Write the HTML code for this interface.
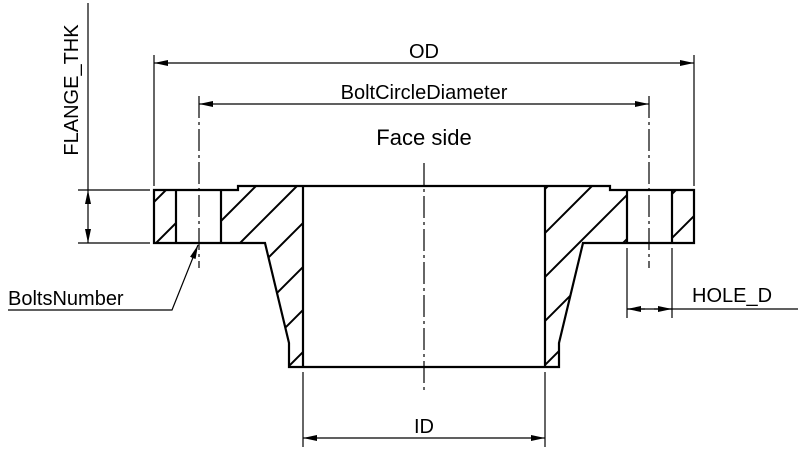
<!DOCTYPE html>
<html><head><style>body{margin:0;background:#fff}svg{display:block}text{font-family:"Liberation Sans",sans-serif;fill:#000}</style></head>
<body>
<svg width="798" height="451" viewBox="0 0 798 451" xmlns="http://www.w3.org/2000/svg">
<defs>
<clipPath id="cl">
<rect x="154" y="190" width="22" height="53"/>
<polygon points="221,190 238,190 238,186 303,186 303,367 289,367 289,343 265,243 221,243"/>
</clipPath>
<clipPath id="cr">
<rect x="672" y="190" width="22" height="53"/>
<polygon points="545,186 610,186 610,190 627,190 627,243 583,243 559,343 559,367 545,367"/>
</clipPath>
<marker id="a" viewBox="0 0 14 6" refX="14" refY="3" markerWidth="14" markerHeight="6" markerUnits="userSpaceOnUse" orient="auto-start-reverse"><path d="M0,0 L14,3 L0,6z" fill="#000"/></marker>
</defs>
<g stroke="#000" stroke-width="2" clip-path="url(#cl)">
<line x1="-44" y1="400" x2="206" y2="150"/>
<line x1="-1" y1="400" x2="249" y2="150"/>
<line x1="42" y1="400" x2="292" y2="150"/>
<line x1="83" y1="400" x2="333" y2="150"/>
<line x1="126" y1="400" x2="376" y2="150"/>
<line x1="170" y1="400" x2="420" y2="150"/>
<line x1="213" y1="400" x2="463" y2="150"/>
<line x1="255" y1="400" x2="505" y2="150"/>
</g>
<g stroke="#000" stroke-width="2" clip-path="url(#cr)">
<line x1="334" y1="400" x2="584" y2="150"/>
<line x1="378" y1="400" x2="628" y2="150"/>
<line x1="422" y1="400" x2="672" y2="150"/>
<line x1="466" y1="400" x2="716" y2="150"/>
<line x1="510" y1="400" x2="760" y2="150"/>
</g>
<g fill="none" stroke="#000" stroke-width="2.2">
<polygon points="154,190 238,190 238,186 610,186 610,190 694,190 694,243 583,243 559,343 559,367 289,367 289,343 265,243 154,243"/>
<line x1="176" y1="190" x2="176" y2="243"/><line x1="221" y1="190" x2="221" y2="243"/>
<line x1="627" y1="190" x2="627" y2="243"/><line x1="672" y1="190" x2="672" y2="243"/>
<line x1="303" y1="186" x2="303" y2="367"/><line x1="545" y1="186" x2="545" y2="367"/>
</g>
<g stroke="#000" stroke-width="1.2" fill="none">
<line x1="424" y1="163" x2="424" y2="392" stroke-dasharray="22,4,3,4"/>
<line x1="199" y1="96" x2="199" y2="268" stroke-dasharray="22,4,3,4"/>
<line x1="649" y1="96" x2="649" y2="268" stroke-dasharray="22,4,3,4"/>
<line x1="154" y1="55" x2="154" y2="186"/><line x1="694" y1="55" x2="694" y2="186"/>
<line x1="154" y1="63" x2="694" y2="63" marker-start="url(#a)" marker-end="url(#a)"/>
<line x1="199" y1="104" x2="649" y2="104" marker-start="url(#a)" marker-end="url(#a)"/>
<line x1="78" y1="190" x2="150" y2="190"/><line x1="78" y1="243" x2="150" y2="243"/>
<line x1="88" y1="3" x2="88" y2="190"/>
<line x1="88" y1="190" x2="88" y2="243" marker-start="url(#a)" marker-end="url(#a)"/>
<line x1="303" y1="372" x2="303" y2="447"/><line x1="545" y1="372" x2="545" y2="447"/>
<line x1="303" y1="438" x2="545" y2="438" marker-start="url(#a)" marker-end="url(#a)"/>
<line x1="627" y1="248" x2="627" y2="318"/><line x1="672" y1="248" x2="672" y2="318"/>
<line x1="627" y1="309" x2="798" y2="309"/>
<line x1="645" y1="309" x2="627" y2="309" marker-end="url(#a)"/>
<line x1="654" y1="309" x2="672" y2="309" marker-end="url(#a)"/>
<polyline points="8,310 172,310 198,245" marker-end="url(#a)"/>
</g>
<text x="424" y="58" font-size="20" text-anchor="middle">OD</text>
<text x="424" y="99" font-size="20" text-anchor="middle">BoltCircleDiameter</text>
<text x="424" y="145" font-size="22" text-anchor="middle">Face side</text>
<text x="424" y="433" font-size="20" text-anchor="middle">ID</text>
<text x="692" y="302" font-size="20">HOLE_D</text>
<text x="8" y="305" font-size="20">BoltsNumber</text>
<text transform="translate(78,90) rotate(-90)" font-size="20" text-anchor="middle">FLANGE_THK</text>
</svg>
</body></html>
